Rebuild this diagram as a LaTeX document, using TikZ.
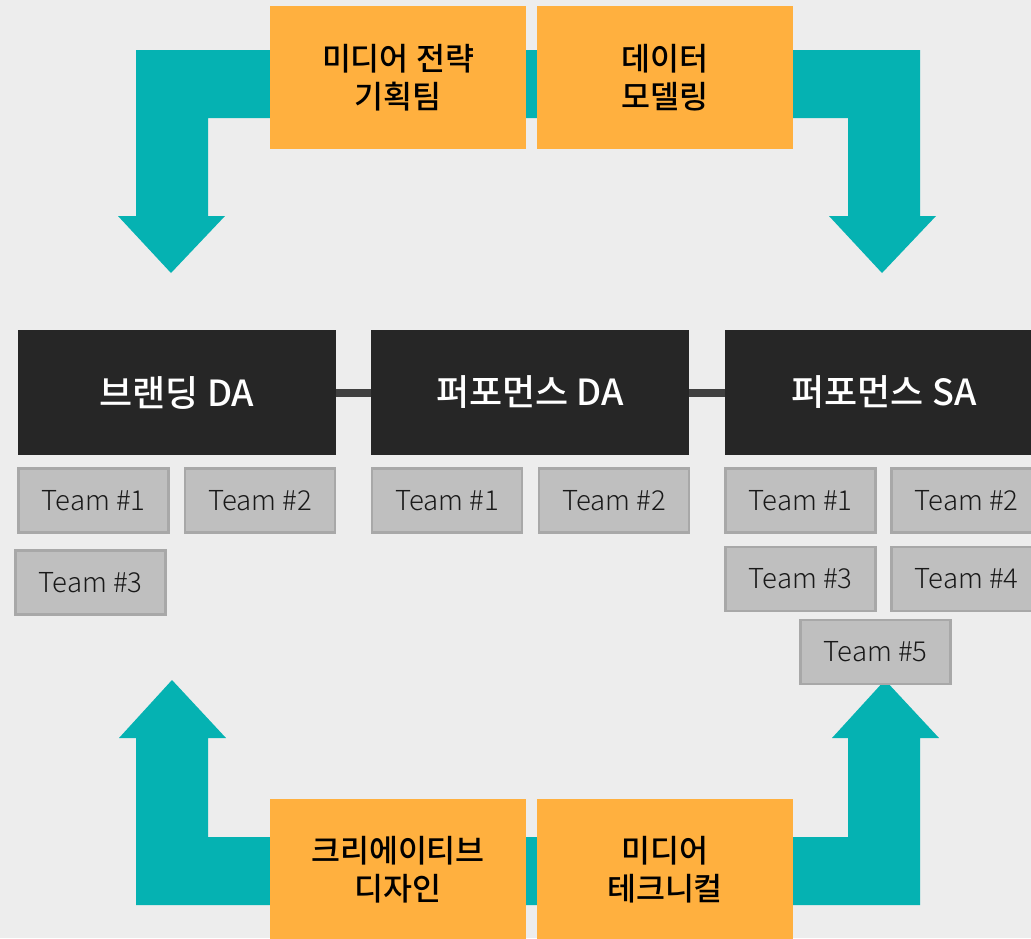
\documentclass[tikz,border=0pt]{standalone}
\usepackage{fontspec}
\setmainfont{Noto Sans CJK KR}
\newfontfamily\teamfont{Noto Sans CJK KR Light}
\newfontfamily\mediumfont{Noto Sans CJK KR Medium}
\usetikzlibrary{positioning}

\definecolor{bgGray}{HTML}{EDEDED}
\definecolor{tealArrow}{HTML}{05B2B2}
\definecolor{orangeBox}{HTML}{FFB03F}
\definecolor{darkBox}{HTML}{262626}
\definecolor{teamFill}{HTML}{BFBFBF}
\definecolor{teamLine}{HTML}{A8A8A8}
\definecolor{linkGray}{HTML}{404040}

\begin{document}
\begin{tikzpicture}[x=1pt,y=-1pt,
  orangebox/.style={fill=orangeBox,minimum width=256pt,minimum height=143pt,
    align=center,font=\mediumfont\fontsize{31.5}{38}\selectfont,text=black},
  darkbox/.style={fill=darkBox,minimum width=318pt,minimum height=125pt,
    font=\mediumfont\fontsize{36}{40}\selectfont,text=white},
  teambox/.style={fill=teamFill,draw=teamLine,line width=2.5pt,
    minimum width=150pt,minimum height=64pt,
    font=\teamfont\fontsize{27.5}{30}\selectfont,text=black!90},
  link/.style={draw=linkGray,line width=8pt}]
  \useasboundingbox (0,0) rectangle (1031,938);
  \fill[bgGray] (0,0) rectangle (1031,938);
  \clip (0,0) rectangle (1031,938);
  % arrows
  \fill[tealArrow] (136,50) -- (920,50) -- (920,216) -- (936,216) -- (882,273)
    -- (829,216) -- (848,216) -- (848,118) -- (208,118) -- (208,216)
    -- (225,216) -- (171,273) -- (118,216) -- (136,216) -- cycle;
  \fill[tealArrow] (136,905) -- (920,905) -- (920,738) -- (939,738) -- (885,680)
    -- (832,738) -- (848,738) -- (848,837) -- (208,837) -- (208,738)
    -- (226,738) -- (172,680) -- (119,738) -- (136,738) -- cycle;
  % orange boxes
  \node[orangebox] (media) at (398,77.5) {미디어 전략\\기획팀};
  \node[orangebox] (model) at (665,77.5) {데이터\\모델링};
  \node[orangebox,minimum height=141pt] (creative) at (398,869.5) {크리에이티브\\디자인};
  \node[orangebox,minimum height=141pt] (tech) at (665,869.5) {미디어\\테크니컬};
  % units
  \node[darkbox] (brand) at (177,392.5) {브랜딩 DA};
  \node[darkbox] (perfda) at (530,392.5) {퍼포먼스 DA};
  \node[darkbox] (perfsa) at (884,392.5) {퍼포먼스 SA};
  \draw[link] (brand.east) -- (perfda.west);
  \draw[link] (perfda.east) -- (perfsa.west);
  % teams
  \node[teambox] (b1) at (93.5,500.5) {Team \#1};
  \node[teambox] (b2) at (260,500.5) {Team \#2};
  \node[teambox] (b3) at (90.5,582.5) {Team \#3};
  \node[teambox] (p1) at (447,500.5) {Team \#1};
  \node[teambox] (p2) at (614,500.5) {Team \#2};
  \node[teambox] (s1) at (800.5,500.5) {Team \#1};
  \node[teambox] (s2) at (966.5,500.5) {Team \#2};
  \node[teambox] (s3) at (800.5,579) {Team \#3};
  \node[teambox] (s4) at (966.5,579) {Team \#4};
  \node[teambox] (s5) at (875.5,652) {Team \#5};
\end{tikzpicture}
\end{document}
